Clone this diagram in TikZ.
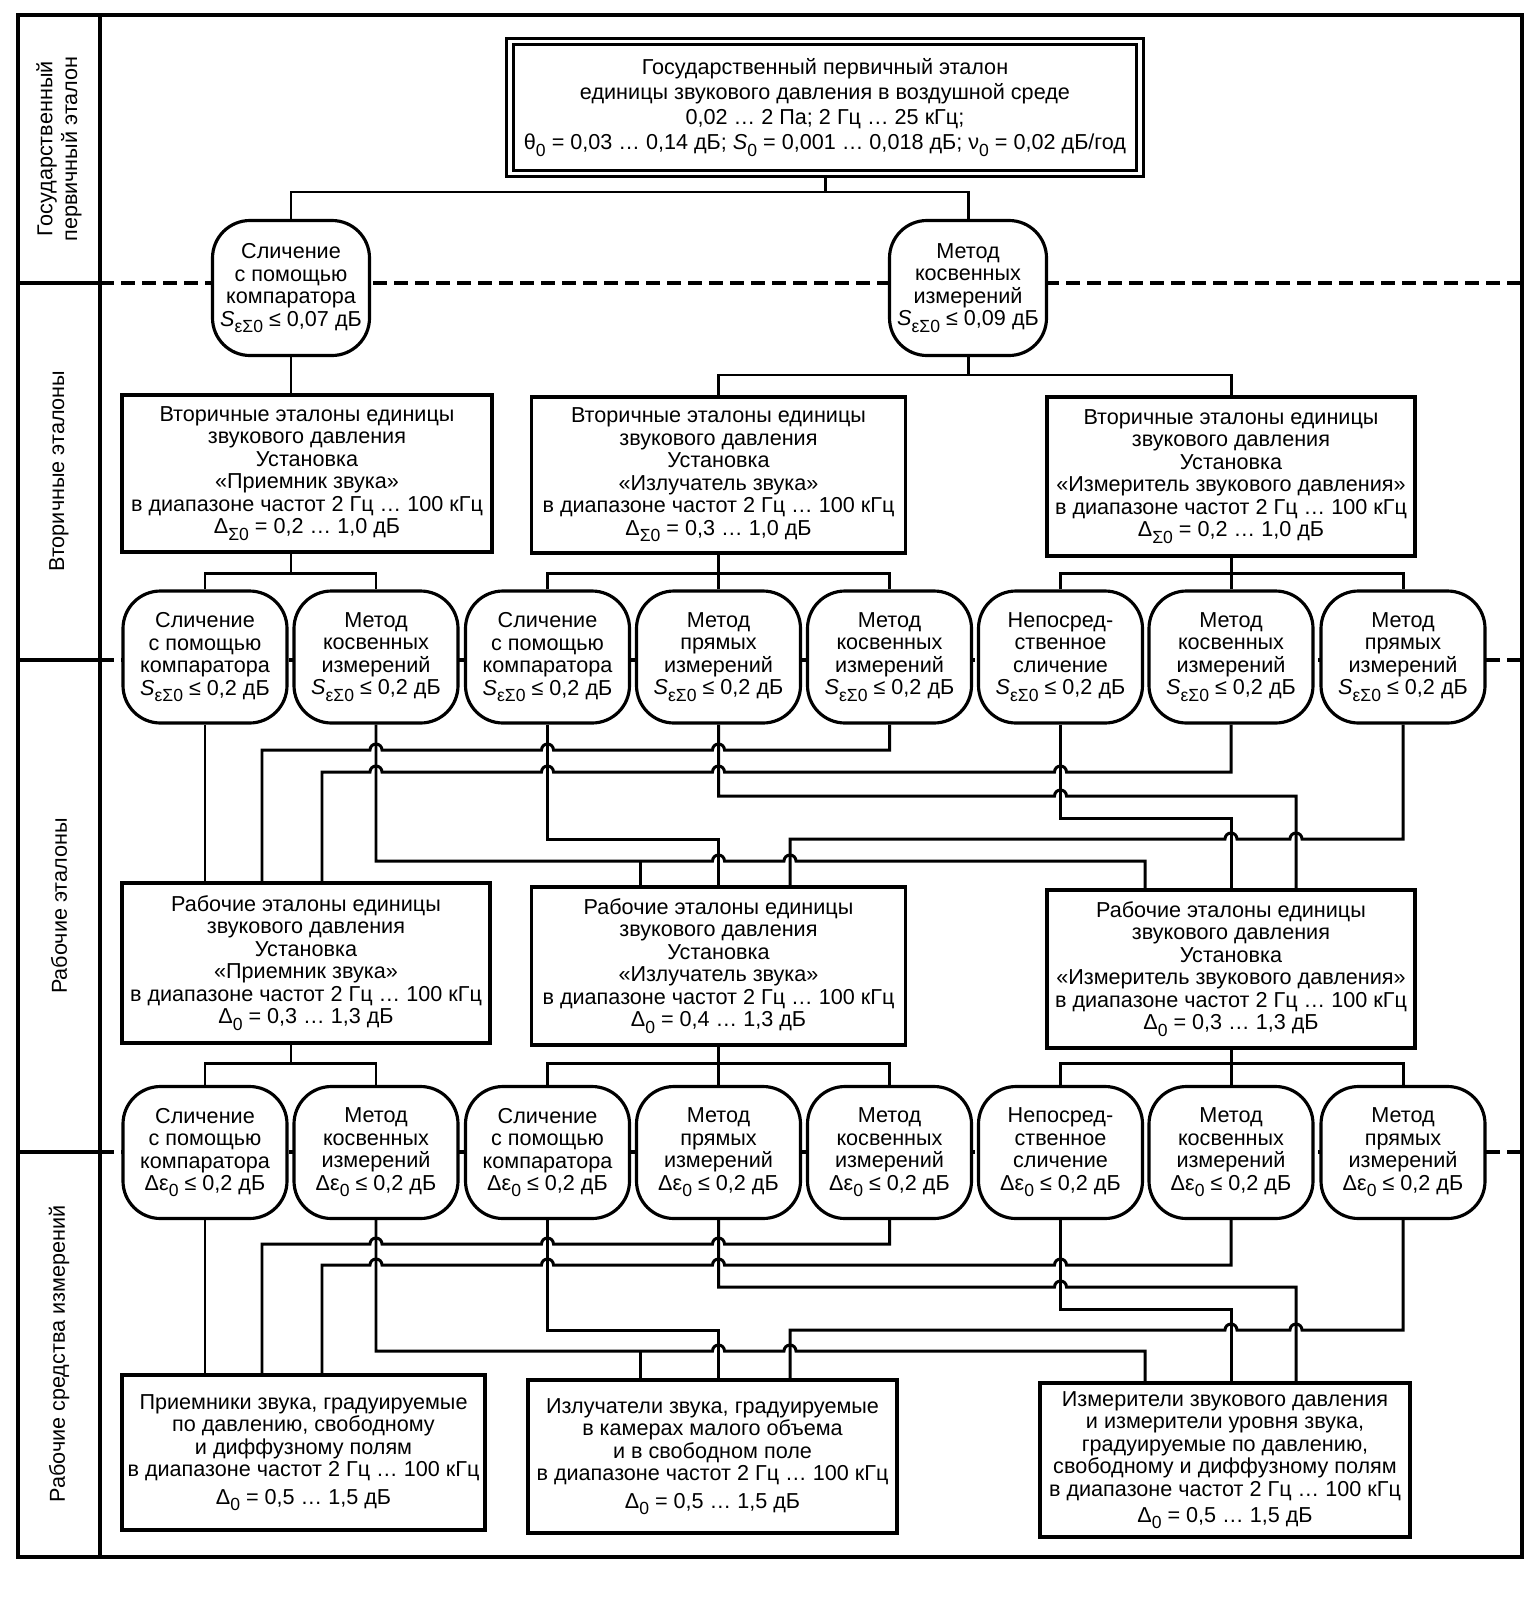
\documentclass[tikz,border=0pt]{standalone}
\usepackage{fontspec}
\setmainfont{Liberation Sans}
\usetikzlibrary{calc}
\newcommand{\lsub}[1]{\raisebox{-0.55ex}{\fontsize{10pt}{10pt}\selectfont #1}}
\tikzset{%
  stdbox/.style={draw, fill=white, rectangle, align=center, inner sep=1pt, line width=1.8pt, font=\fontsize{12.3pt}{12.8pt}\selectfont},%
  methbox/.style={stdbox, rounded corners=0.75cm, minimum width=3.28cm, minimum height=2.64cm},%
  lvltext/.style={rotate=90, align=center, font=\fontsize{12.3pt}{14pt}\selectfont},%
  band/.style={line width=2.2pt, dash pattern=on 0.28cm off 0.14cm},%
  hopr/.style={insert path={-- ($(#1)+(-0.12,0)$) arc[start angle=180, end angle=0, radius=0.12cm]}},%
  hopl/.style={insert path={-- ($(#1)+(0.12,0)$) arc[start angle=0, end angle=180, radius=0.12cm]}},%
}

\begin{document}
\begin{tikzpicture}[line width=1.7pt]%
\useasboundingbox (0,0) rectangle (30.74,-31.98);%
% frame and levels
\draw[line width=2.2pt] (0.36,-0.30) rectangle (30.44,-31.14);%
\draw[line width=2.2pt] (2.0,-0.30) -- (2.0,-31.14);%
\draw[line width=2pt] (0.36,-5.66) -- (2.0,-5.66);%
\draw[line width=2pt] (0.36,-13.2) -- (2.0,-13.2);%
\draw[line width=2pt] (0.36,-23.04) -- (2.0,-23.04);%
\draw[band] (2.0,-5.66) -- (30.44,-5.66);%
\draw[band] (2.0,-13.2) -- (30.44,-13.2);%
\draw[band] (2.0,-23.04) -- (30.44,-23.04);%
\node[lvltext] (lev1) at (1.18,-2.98) {Государственный\\первичный эталон};%
\node[lvltext] (lev2) at (1.18,-9.42) {Вторичные эталоны};%
\node[lvltext] (lev3) at (1.18,-18.12) {Рабочие эталоны};%
\node[lvltext] (lev4) at (1.18,-27.08) {Рабочие средства измерений};%
% primary standard
\node[stdbox, double, double distance=2.2pt, line width=1.6pt, minimum width=12.6cm, minimum height=2.64cm, font=\fontsize{12.3pt}{14.2pt}\selectfont] (gpe) at (16.5,-2.15) {Государственный первичный эталон\\единицы звукового давления в воздушной среде\\0,02 … 2 Па; 2 Гц … 25 кГц;\\θ\lsub{0} = 0,03 … 0,14 дБ; {\itshape S}\lsub{0} = 0,001 … 0,018 дБ; ν\lsub{0} = 0,02 дБ/год};%
\node[methbox, minimum width=3.14cm, minimum height=2.7cm] (gk) at (5.82,-5.76) {Сличение\\с помощью\\компаратора\\{\itshape S}\lsub{εΣ0} ≤ 0,07 дБ};%
\node[methbox, minimum width=3.14cm, minimum height=2.7cm] (gm) at (19.36,-5.76) {Метод\\косвенных\\измерений\\{\itshape S}\lsub{εΣ0} ≤ 0,09 дБ};%
% secondary standards
\node[stdbox, minimum width=7.4cm, minimum height=3.14cm] (vb1) at (6.14,-9.47) {Вторичные эталоны единицы\\звукового давления\\Установка\\«Приемник звука»\\в диапазоне частот 2 Гц … 100 кГц\\Δ\lsub{Σ0} = 0,2 … 1,0 дБ};%
\node[stdbox, minimum width=7.48cm, minimum height=3.12cm] (vb2) at (14.37,-9.5) {Вторичные эталоны единицы\\звукового давления\\Установка\\«Излучатель звука»\\в диапазоне частот 2 Гц … 100 кГц\\Δ\lsub{Σ0} = 0,3 … 1,0 дБ};%
\node[stdbox, minimum width=7.36cm, minimum height=3.18cm] (vb3) at (24.62,-9.53) {Вторичные эталоны единицы\\звукового давления\\Установка\\«Измеритель звукового давления»\\в диапазоне частот 2 Гц … 100 кГц\\Δ\lsub{Σ0} = 0,2 … 1,0 дБ};%
\node[methbox] (v1) at (4.1,-13.14) {Сличение\\с помощью\\компаратора\\{\itshape S}\lsub{εΣ0} ≤ 0,2 дБ};%
\node[methbox] (v2) at (7.52,-13.14) {Метод\\косвенных\\измерений\\{\itshape S}\lsub{εΣ0} ≤ 0,2 дБ};%
\node[methbox] (v3) at (10.95,-13.14) {Сличение\\с помощью\\компаратора\\{\itshape S}\lsub{εΣ0} ≤ 0,2 дБ};%
\node[methbox] (v4) at (14.37,-13.14) {Метод\\прямых\\измерений\\{\itshape S}\lsub{εΣ0} ≤ 0,2 дБ};%
\node[methbox] (v5) at (17.79,-13.14) {Метод\\косвенных\\измерений\\{\itshape S}\lsub{εΣ0} ≤ 0,2 дБ};%
\node[methbox] (v6) at (21.21,-13.14) {Непосред-\\ственное\\сличение\\{\itshape S}\lsub{εΣ0} ≤ 0,2 дБ};%
\node[methbox] (v7) at (24.62,-13.14) {Метод\\косвенных\\измерений\\{\itshape S}\lsub{εΣ0} ≤ 0,2 дБ};%
\node[methbox] (v8) at (28.06,-13.14) {Метод\\прямых\\измерений\\{\itshape S}\lsub{εΣ0} ≤ 0,2 дБ};%
% working standards
\node[stdbox, minimum width=7.36cm, minimum height=3.2cm] (rb1) at (6.12,-19.26) {Рабочие эталоны единицы\\звукового давления\\Установка\\«Приемник звука»\\в диапазоне частот 2 Гц … 100 кГц\\Δ\lsub{0} = 0,3 … 1,3 дБ};%
\node[stdbox, minimum width=7.48cm, minimum height=3.16cm] (rb2) at (14.37,-19.32) {Рабочие эталоны единицы\\звукового давления\\Установка\\«Излучатель звука»\\в диапазоне частот 2 Гц … 100 кГц\\Δ\lsub{0} = 0,4 … 1,3 дБ};%
\node[stdbox, minimum width=7.36cm, minimum height=3.16cm] (rb3) at (24.62,-19.38) {Рабочие эталоны единицы\\звукового давления\\Установка\\«Измеритель звукового давления»\\в диапазоне частот 2 Гц … 100 кГц\\Δ\lsub{0} = 0,3 … 1,3 дБ};%
\node[methbox] (r1) at (4.1,-23.05) {Сличение\\с помощью\\компаратора\\Δε\lsub{0} ≤ 0,2 дБ};%
\node[methbox] (r2) at (7.52,-23.05) {Метод\\косвенных\\измерений\\Δε\lsub{0} ≤ 0,2 дБ};%
\node[methbox] (r3) at (10.95,-23.05) {Сличение\\с помощью\\компаратора\\Δε\lsub{0} ≤ 0,2 дБ};%
\node[methbox] (r4) at (14.37,-23.05) {Метод\\прямых\\измерений\\Δε\lsub{0} ≤ 0,2 дБ};%
\node[methbox] (r5) at (17.79,-23.05) {Метод\\косвенных\\измерений\\Δε\lsub{0} ≤ 0,2 дБ};%
\node[methbox] (r6) at (21.21,-23.05) {Непосред-\\ственное\\сличение\\Δε\lsub{0} ≤ 0,2 дБ};%
\node[methbox] (r7) at (24.62,-23.05) {Метод\\косвенных\\измерений\\Δε\lsub{0} ≤ 0,2 дБ};%
\node[methbox] (r8) at (28.06,-23.05) {Метод\\прямых\\измерений\\Δε\lsub{0} ≤ 0,2 дБ};%
% working measuring instruments
\node[stdbox, minimum width=7.26cm, minimum height=3.1cm] (sb1) at (6.07,-29.05) {Приемники звука, градуируемые\\по давлению, свободному\\и диффузному полям\\в диапазоне частот 2 Гц … 100 кГц\\[3pt]Δ\lsub{0} = 0,5 … 1,5 дБ};%
\node[stdbox, minimum width=7.38cm, minimum height=3.06cm] (sb2) at (14.25,-29.13) {Излучатели звука, градуируемые\\в камерах малого объема\\и в свободном поле\\в диапазоне частот 2 Гц … 100 кГц\\[3pt]Δ\lsub{0} = 0,5 … 1,5 дБ};%
\node[stdbox, minimum width=7.4cm, minimum height=3.08cm] (sb3) at (24.5,-29.2) {Измерители звукового давления\\и измерители уровня звука,\\градуируемые по давлению,\\свободному и диффузному полям\\в диапазоне частот 2 Гц … 100 кГц\\[2pt]Δ\lsub{0} = 0,5 … 1,5 дБ};%
% levels of the connectors
\coordinate (t0) at (0,-3.84);%
\coordinate (t1) at (0,-7.5);%
\coordinate (t2) at (0,-11.46);%
\coordinate (t3) at (0,-21.26);%
\coordinate (ua) at (0,-15.0);%
\coordinate (ub) at (0,-15.44);%
\coordinate (uc) at (0,-15.92);%
\coordinate (ud) at (0,-16.36);%
\coordinate (ue) at (0,-16.78);%
\coordinate (uf) at (0,-17.22);%
\coordinate (la) at (0,-24.88);%
\coordinate (lb) at (0,-25.3);%
\coordinate (lc) at (0,-25.74);%
\coordinate (ld) at (0,-26.18);%
\coordinate (le) at (0,-26.6);%
\coordinate (lf) at (0,-27.02);%
\coordinate (x1) at (5.24,0);%
\coordinate (x2) at (6.44,0);%
\coordinate (x3) at (12.8,0);%
\coordinate (x4) at (15.8,0);%
\coordinate (x5) at (22.9,0);%
\coordinate (x6) at (25.92,0);%
% tree
\draw (gpe.south) -- (gpe.south |- t0);%
\draw (gk.north) -- (gk.north |- t0) -- (gm.north |- t0) -- (gm.north);%
\draw (gk.south) -- (gk.south |- vb1.north);%
\draw (gm.south) -- (gm.south |- t1);%
\draw (vb2.north) -- (vb2.north |- t1) -- (vb3.north |- t1) -- (vb3.north);%
\draw (gk |- vb1.south) -- (gk |- t2);%
\draw (v1.north) -- (v1.north |- t2) -- (v2.north |- t2) -- (v2.north);%
\draw (vb2.south) -- (vb2.south |- t2);%
\draw (v3.north) -- (v3.north |- t2) -- (v5.north |- t2) -- (v5.north);%
\draw (v4.north) -- (v4.north |- t2);%
\draw (vb3.south) -- (vb3.south |- t2);%
\draw (v6.north) -- (v6.north |- t2) -- (v8.north |- t2) -- (v8.north);%
\draw (v7.north) -- (v7.north |- t2);%
\draw (gk |- rb1.south) -- (gk |- t3);%
\draw (r1.north) -- (r1.north |- t3) -- (r2.north |- t3) -- (r2.north);%
\draw (rb2.south) -- (rb2.south |- t3);%
\draw (r3.north) -- (r3.north |- t3) -- (r5.north |- t3) -- (r5.north);%
\draw (r4.north) -- (r4.north |- t3);%
\draw (rb3.south) -- (rb3.south |- t3);%
\draw (r6.north) -- (r6.north |- t3) -- (r8.north |- t3) -- (r8.north);%
\draw (r7.north) -- (r7.north |- t3);%
% secondary methods to working standards
\draw (v1.south) -- (v1.south |- rb1.north);%
\draw (v5.south) -- (v5.south |- ua) [hopl={v4 |- ua}] [hopl={v3 |- ua}] [hopl={v2 |- ua}] -- (x1 |- ua) -- (x1 |- rb1.north);%
\draw (v7.south) -- (v7.south |- ub) [hopl={v6 |- ub}] [hopl={v4 |- ub}] [hopl={v3 |- ub}] [hopl={v2 |- ub}] -- (x2 |- ub) -- (x2 |- rb1.north);%
\draw (v4.south) -- (v4.south |- uc) [hopr={v6 |- uc}] -- (x6 |- uc) -- (x6 |- rb3.north);%
\draw (v6.south) -- (v6.south |- ud) -- (v7 |- ud) -- (v7 |- rb3.north);%
\draw (v3.south) -- (v3.south |- ue) -- (v4 |- ue) -- (v4 |- rb2.north);%
\draw (v8.south) -- (v8.south |- ue) [hopl={x6 |- ue}] [hopl={v7 |- ue}] -- (x4 |- ue) -- (x4 |- rb2.north);%
\draw (v2.south) -- (v2.south |- uf) [hopr={v4 |- uf}] [hopr={x4 |- uf}] -- (x5 |- uf) -- (x5 |- rb3.north);%
\draw (x3 |- uf) -- (x3 |- rb2.north);%
% working methods to measuring instruments
\draw (r1.south) -- (r1.south |- sb1.north);%
\draw (r5.south) -- (r5.south |- la) [hopl={r4 |- la}] [hopl={r3 |- la}] [hopl={r2 |- la}] -- (x1 |- la) -- (x1 |- sb1.north);%
\draw (r7.south) -- (r7.south |- lb) [hopl={r6 |- lb}] [hopl={r4 |- lb}] [hopl={r3 |- lb}] [hopl={r2 |- lb}] -- (x2 |- lb) -- (x2 |- sb1.north);%
\draw (r4.south) -- (r4.south |- lc) [hopr={r6 |- lc}] -- (x6 |- lc) -- (x6 |- sb3.north);%
\draw (r6.south) -- (r6.south |- ld) -- (r7 |- ld) -- (r7 |- sb3.north);%
\draw (r3.south) -- (r3.south |- le) -- (r4 |- le) -- (r4 |- sb2.north);%
\draw (r8.south) -- (r8.south |- le) [hopl={x6 |- le}] [hopl={r7 |- le}] -- (x4 |- le) -- (x4 |- sb2.north);%
\draw (r2.south) -- (r2.south |- lf) [hopr={r4 |- lf}] [hopr={x4 |- lf}] -- (x5 |- lf) -- (x5 |- sb3.north);%
\draw (x3 |- lf) -- (x3 |- sb2.north);%
\end{tikzpicture}
\end{document}
